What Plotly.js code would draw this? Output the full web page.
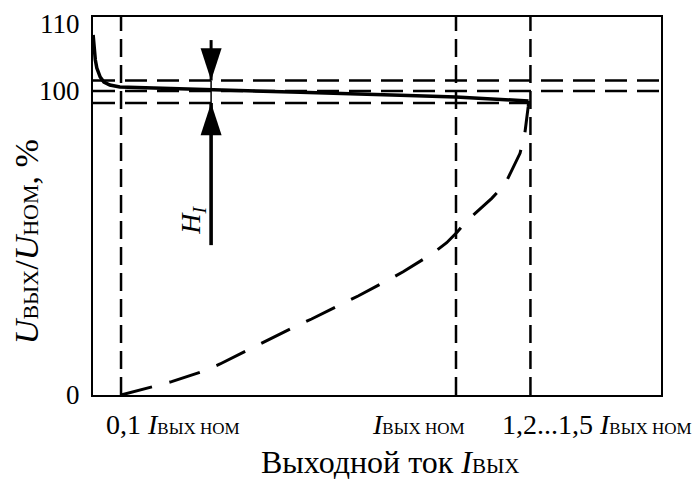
<!DOCTYPE html>
<html>
<head>
<meta charset="utf-8">
<script src="https://cdn.plot.ly/plotly-3.0.1.min.js"></script>
<style>html,body{margin:0;padding:0;background:#fff;}#chart{width:693px;height:482px;}</style>
</head>
<body>
<div id="chart"></div>
<script>
// ---- data (x in units of I_nom, y in % of U_nom) ----
const solidX = [0.025, 0.027, 0.031, 0.035, 0.044, 0.054, 0.070, 0.097, 0.205, 0.420, 0.581, 0.850, 1.0, 1.195];
const solidY = [108.36, 106.42, 104.63, 103.43, 102.09, 101.34, 100.90, 100.60, 100.40, 100.10, 99.57, 98.62, 98.03, 96.71];

const dashX = [0.1, 0.187, 0.236, 0.317, 0.366, 0.445, 0.491, 0.567, 0.612, 0.693, 0.737, 0.818, 0.858, 0.935, 0.975, 1.004, 1.027, 1.096, 1.132, 1.172, 1.185, 1.194, 1.195];
const dashY = [0, 2.96, 4.38, 7.66, 10.20, 15.03, 17.86, 22.47, 25.0, 29.84, 32.57, 37.83, 40.56, 46.38, 50.10, 53.72, 57.01, 64.70, 69.41, 79.51, 86.09, 94.84, 96.71];

const vLineX = [0.1, 1.0, 1.2];
const hLevels = [101.57, 100, 96.05];
const hEnds = [1.551, 1.551, 1.195];

const yTickVals = [0, 100, 110];
const yTickText = ['0', '100', '110'];

const xTickPos = [0.1, 1.0, 1.2];
const xTickText = [
  '0,1 <i>I</i><span style="font-size:17px">ВЫХ НОМ</span>',
  '<i>I</i><span style="font-size:17px">ВЫХ НОМ</span>',
  '1,2...1,5 <i>I</i><span style="font-size:17px">ВЫХ НОМ</span>'
];

const arrowX = 0.342;
const arrowDown = [107.6, 101.57];   // from, to (tip)
const arrowUp = [49.3, 96.05];       // from, to (tip)

// ---- broken y scale: above 100 % the scale is stretched ----
const k = 2.204;
function toAxis(v) { return v <= 100 ? v : 100 + (v - 100) * k; }

const xMin = 0.0247, xMax = 1.5508;
const yMin = 0, yMax = 124.34;
const font = 'Liberation Serif, Times New Roman, serif';

const traces = [];
// vertical dashed lines
vLineX.forEach(x => traces.push({
  x: [x, x], y: [yMin, yMax], mode: 'lines',
  line: {color: 'black', width: 2.5, dash: '18px,8px'}, hoverinfo: 'skip'
}));
// horizontal dashed lines
hLevels.forEach((v, i) => traces.push({
  x: [xMin, hEnds[i]], y: [toAxis(v), toAxis(v)], mode: 'lines',
  line: {color: 'black', width: 2.5, dash: '22px,10px'}, hoverinfo: 'skip'
}));
// long-dashed curve
traces.push({
  x: dashX, y: dashY.map(toAxis), mode: 'lines',
  line: {color: 'black', width: 3, dash: '32px,18px'}, hoverinfo: 'skip'
});
// solid curve
traces.push({
  x: solidX, y: solidY.map(toAxis), mode: 'lines',
  line: {color: 'black', width: 3.5}, hoverinfo: 'skip'
});
// thin line between arrow tips
traces.push({
  x: [arrowX, arrowX], y: [toAxis(arrowDown[1]), toAxis(arrowUp[1])], mode: 'lines',
  line: {color: 'black', width: 1.5}, hoverinfo: 'skip'
});
// arrow shafts
[arrowDown, arrowUp].forEach((a, i) => traces.push({
  x: [arrowX, arrowX], y: [toAxis(a[0]), toAxis(a[1])], mode: 'lines',
  line: {color: 'black', width: i === 0 ? 3 : 3.6}, hoverinfo: 'skip'
}));
// arrow heads (tip at data point)
traces.push({
  x: [arrowX, arrowX], y: [toAxis(arrowDown[1]), toAxis(arrowUp[1])], mode: 'markers',
  marker: {symbol: 'arrow', size: 34, angle: [180, 0], color: 'black', line: {width: 0}},
  hoverinfo: 'skip'
});

const annotations = [];
annotations.push({
  xref: 'x', yref: 'y', x: 0.293, y: 57.6, text: '<i>H<sub>I</sub></i>',
  textangle: -90, showarrow: false, font: {family: font, size: 28, color: 'black'},
  xanchor: 'center', yanchor: 'middle'
});

const xShifts = [52, -38, 67];
xTickPos.forEach((x, i) => annotations.push({
  xref: 'x', yref: 'paper', x: x, y: -0.079, xshift: xShifts[i],
  text: xTickText[i], showarrow: false, xanchor: 'center', yanchor: 'middle',
  font: {family: font, size: 28, color: 'black'}
}));

// axis titles
annotations.push({
  xref: 'paper', yref: 'paper', x: 0.5246, y: -0.177,
  text: 'Выходной ток <i>I</i><span style="font-size:21px">ВЫХ</span>',
  showarrow: false, xanchor: 'center', yanchor: 'middle',
  font: {family: font, size: 32, color: 'black'}
});
annotations.push({
  xref: 'paper', yref: 'paper', x: -0.118, y: 0.407, textangle: -90,
  text: '<i>U</i><span style="font-size:22px">ВЫХ</span>/<i>U</i><span style="font-size:22px">НОМ</span>, %',
  showarrow: false, xanchor: 'center', yanchor: 'middle',
  font: {family: font, size: 34, color: 'black'}
});

const layout = {
  width: 693, height: 482,
  margin: {l: 93, r: 32, t: 17, b: 87},
  paper_bgcolor: 'white', plot_bgcolor: 'white',
  showlegend: false,
  font: {family: font, color: 'black'},
  xaxis: {
    range: [xMin, xMax], showgrid: false, zeroline: false,
    showticklabels: false, ticks: '',
    showline: true, mirror: true, linecolor: 'black', linewidth: 2
  },
  yaxis: {
    range: [yMin, yMax], showgrid: false, zeroline: false,
    tickvals: yTickVals.map(toAxis), ticktext: yTickText, ticks: '',
    tickfont: {family: font, size: 27, color: 'black'}, ticklabelstandoff: 6,
    showline: true, mirror: true, linecolor: 'black', linewidth: 2
  },
  annotations: annotations
};

Plotly.newPlot('chart', traces, layout, {staticPlot: true, displayModeBar: false});
</script>
</body>
</html>
